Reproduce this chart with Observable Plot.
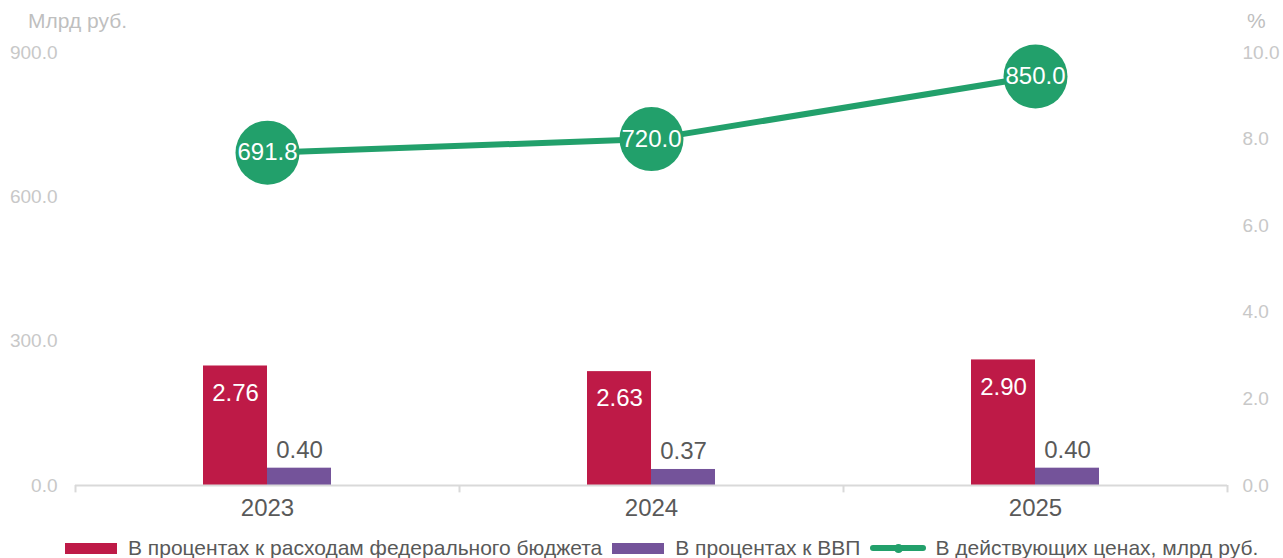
<!DOCTYPE html>
<html><head><meta charset="utf-8">
<script src="https://cdn.jsdelivr.net/npm/d3@7"></script>
<script src="https://cdn.jsdelivr.net/npm/@observablehq/plot@0.6"></script>
<style>
body{margin:0;background:#fff;font-family:"Liberation Sans",Arial,sans-serif;}
#wrap{position:relative;width:1283px;height:558px;overflow:hidden;}
#chart{position:absolute;left:0;top:0;}
.unit{position:absolute;top:10px;font-size:21px;line-height:21px;color:#bfbfbf;}
#legend{position:absolute;left:65px;top:537px;height:22px;display:flex;align-items:center;font-size:21px;color:#595959;white-space:nowrap;}
.sw{width:52px;height:11px;margin-right:11px;}
.item{display:flex;align-items:center;margin-right:10px;}
.ln{position:relative;width:56px;height:6px;border-radius:3px;margin-right:9px;}
.ln::after{content:"";position:absolute;left:24px;top:-1.5px;width:9px;height:9px;border-radius:50%;background:inherit;}
</style></head>
<body><div id="wrap"><div id="chart"></div>
<span class="unit" style="left:28px">Млрд руб.</span>
<span class="unit" style="left:1247px">%</span>
<div id="legend"></div></div>
<script>
const years = ["2023", "2024", "2025"];
const budgetPct = [2.76, 2.63, 2.90];
const gdpPct = [0.40, 0.37, 0.40];
const priceBn = [691.8, 720.0, 850.0];
const leftTicks = [0, 300, 600, 900];
const rightTicks = [0, 2, 4, 6, 8, 10];
const seriesNames = ["В процентах к расходам федерального бюджета", "В процентах к ВВП", "В действующих ценах, млрд руб."];
const colors = ["#be1a47", "#74539a", "#22a06b"];

const leftMax = 900, rightMax = 10;
const k = rightMax / leftMax;
const rows = years.map((y, i) => ({year: y, budget: budgetPct[i], gdp: gdpPct[i], price: priceBn[i]}));
const half = (1283 - 75 - 56) / years.length / 2;

const chart = Plot.plot({
  width: 1283, height: 525,
  marginLeft: 75, marginRight: 56, marginTop: 52, marginBottom: 40,
  x: {domain: years, padding: 0, axis: null},
  y: {domain: [0, rightMax], axis: null},
  style: {fontFamily: '"Liberation Sans", Arial, sans-serif', background: "white", overflow: "visible"},
  marks: [
    Plot.barY(rows, {x: "year", y: "budget", fill: colors[0], insetLeft: half - 64, insetRight: half}),
    Plot.barY(rows, {x: "year", y: "gdp", fill: colors[1], insetLeft: half, insetRight: half - 64}),
    Plot.ruleY([0], {stroke: "#d9d9d9", strokeWidth: 2}),
    Plot.ruleX(years, {x: d => d, y1: 0, y2: -0.17, dx: -half, stroke: "#d9d9d9", strokeWidth: 2}),
    Plot.ruleX(years.slice(-1), {x: d => d, y1: 0, y2: -0.17, dx: half, stroke: "#d9d9d9", strokeWidth: 2}),
    Plot.text(rows, {x: "year", y: "budget", text: d => d.budget.toFixed(2), dx: -32, dy: 27, fill: "white", fontSize: 24}),
    Plot.text(rows, {x: "year", y: "gdp", text: d => d.gdp.toFixed(2), dx: 32, dy: -18, fill: "#595959", fontSize: 24}),
    Plot.line(rows, {x: "year", y: d => d.price * k, stroke: colors[2], strokeWidth: 6}),
    Plot.dot(rows, {x: "year", y: d => d.price * k, r: 32, fill: colors[2], stroke: "none"}),
    Plot.text(rows, {x: "year", y: d => d.price * k, text: d => d.price.toFixed(1), fill: "white", fontSize: 24}),
    Plot.axisX({tickSize: 0, tickPadding: 13, fontSize: 24, color: "#595959", label: null}),
    Plot.axisY(leftTicks.map(v => v * k), {anchor: "left", tickFormat: v => (v / k).toFixed(1), tickSize: 0, tickPadding: 18, fontSize: 19, color: "#c8c8c8", label: null}),
    Plot.axisY(rightTicks, {anchor: "right", tickFormat: v => v.toFixed(1), tickSize: 0, tickPadding: 15, fontSize: 19, color: "#c8c8c8", label: null})
  ]
});
document.getElementById("chart").appendChild(chart);

const legend = document.getElementById("legend");
seriesNames.forEach((name, i) => {
  const item = document.createElement("div");
  item.className = "item";
  const mark = document.createElement("span");
  mark.className = i < 2 ? "sw" : "ln";
  mark.style.background = colors[i];
  item.appendChild(mark);
  const t = document.createElement("span");
  t.textContent = name;
  item.appendChild(t);
  legend.appendChild(item);
});
</script></body></html>
